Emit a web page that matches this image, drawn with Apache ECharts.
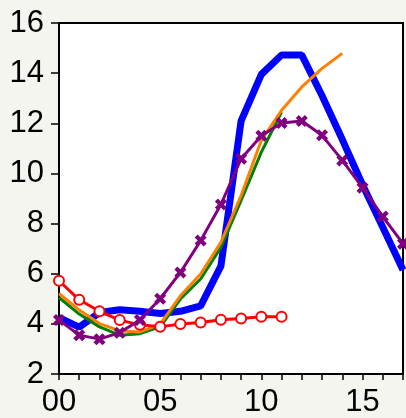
<!DOCTYPE html>
<html><head><meta charset="utf-8">
<script src="https://cdn.jsdelivr.net/npm/echarts@6/dist/echarts.min.js"></script>
<style>html,body{margin:0;padding:0;background:#f5f5f0;}#c{width:406px;height:418px;}</style>
</head><body><div id="c"></div>
<script>
var xTickLabels = {0:'00',5:'05',10:'10',15:'15'};
var blueVals   = [4.25,3.87,4.45,4.56,4.5,4.41,4.5,4.72,6.3,12.1,13.95,14.72,14.72,13.1,11.35,9.55,7.85,6.15];
var greenVals  = [5.05,4.39,3.88,3.55,3.61,3.88,4.99,5.79,7.05,8.92,10.85,12.45];
var orangeVals = [5.21,4.55,4.01,3.72,3.68,3.99,5.12,5.99,7.25,9.12,11.32,12.52,13.45,14.19,14.79];
var redVals    = [5.72,4.96,4.5,4.15,3.96,3.88,3.99,4.05,4.16,4.21,4.28,4.28];
var purpleVals = [4.15,3.55,3.39,3.65,4.15,5.0,6.05,7.32,8.76,10.59,11.5,12.01,12.09,11.52,10.52,9.43,8.28,7.2];

function pairs(a){ return a.map(function(v,i){ return [i,v]; }); }
var font = "'Liberation Sans', Arial, sans-serif";
var chart = echarts.init(document.getElementById('c'));
chart.setOption({
  backgroundColor:'#f5f5f0',
  animation:false,
  grid:{left:59,top:23,right:-3,bottom:44,show:true,backgroundColor:'#ffffff',borderColor:'#000',borderWidth:2},
  xAxis:{type:'value',min:0,max:17,interval:1,
    axisLine:{onZero:false,lineStyle:{color:'#000',width:2}},
    axisTick:{length:6,lineStyle:{color:'#000',width:1.5}},
    splitLine:{show:false},
    axisLabel:{color:'#000',fontSize:31,fontFamily:font,margin:13,
      formatter:function(v){ return xTickLabels[v] !== undefined ? xTickLabels[v] : ''; }}
  },
  yAxis:{type:'value',min:2,max:16,interval:2,
    axisLine:{show:true,lineStyle:{color:'#000',width:2}},
    axisTick:{show:true,length:8,lineStyle:{color:'#000',width:1.5}},
    splitLine:{show:false},
    axisLabel:{color:'#000',fontSize:31,fontFamily:font,margin:15}
  },
  series:[
    {type:'line',data:pairs(blueVals),symbol:'none',lineStyle:{color:'#0000ff',width:7},z:2},
    {type:'line',data:pairs(greenVals),symbol:'none',lineStyle:{color:'#008000',width:3},z:3},
    {type:'line',data:pairs(orangeVals),symbol:'none',lineStyle:{color:'#ff8000',width:3},z:4},
    {type:'line',data:pairs(redVals),symbol:'circle',symbolSize:10,showAllSymbol:true,
      itemStyle:{color:'#ffffff',borderColor:'#ff0000',borderWidth:2},lineStyle:{color:'#ff0000',width:3},z:5},
    {type:'line',data:pairs(purpleVals),symbol:'path://M0,2.5 L2.5,0 L5,2.5 L7.5,0 L10,2.5 L7.5,5 L10,7.5 L7.5,10 L5,7.5 L2.5,10 L0,7.5 L2.5,5 Z',symbolSize:12,showAllSymbol:true,
      itemStyle:{color:'#800080',borderWidth:0},lineStyle:{color:'#800080',width:3},z:6}
  ]
});
</script></body></html>
